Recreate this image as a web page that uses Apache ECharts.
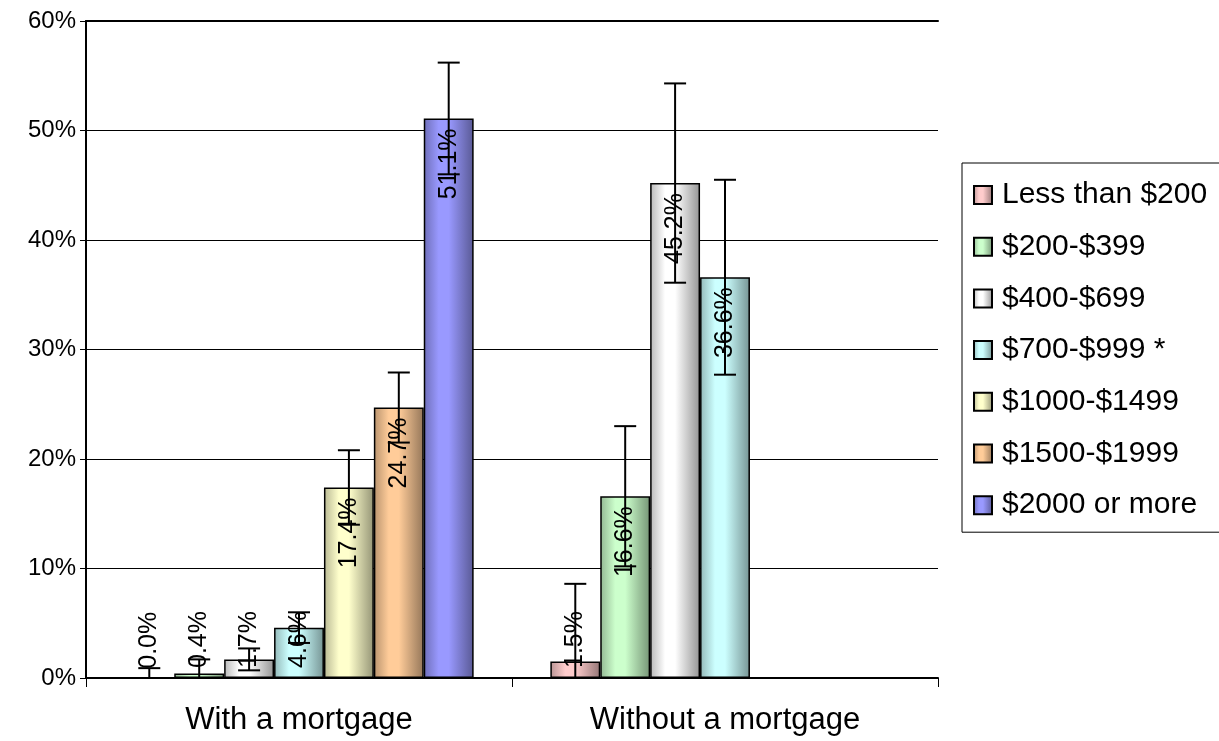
<!DOCTYPE html>
<html>
<head>
<meta charset="utf-8">
<script src="https://cdn.jsdelivr.net/npm/echarts@6/dist/echarts.min.js"></script>
<style>
html,body{margin:0;padding:0;background:#fff;}
#chart{width:1219px;height:741px;}
</style>
</head>
<body>
<div id="chart"></div>
<script>
var categories = ['With a mortgage', 'Without a mortgage'];
var seriesNames = ['Less than $200', '$200-$399', '$400-$699', '$700-$999 *', '$1000-$1499', '$1500-$1999', '$2000 or more'];
// values per series: [With a mortgage, Without a mortgage]
var lessThan200 = [0.0, 1.5];
var s200to399 = [0.4, 16.6];
var s400to699 = [1.7, 45.2];
var s700to999 = [4.6, 36.6];
var s1000to1499 = [17.4, null];
var s1500to1999 = [24.7, null];
var s2000plus = [51.1, null];
// error margins (±) per series
var errLessThan200 = [0.9, 7.1];
var err200to399 = [1.3, 6.4];
var err400to699 = [1.0, 9.1];
var err700to999 = [1.4, 8.9];
var err1000to1499 = [3.4, null];
var err1500to1999 = [3.2, null];
var err2000plus = [5.1, null];
var yTicks = [0, 10, 20, 30, 40, 50, 60];

var values = [lessThan200, s200to399, s400to699, s700to999, s1000to1499, s1500to1999, s2000plus];
var errors = [errLessThan200, err200to399, err400to699, err700to999, err1000to1499, err1500to1999, err2000plus];
var baseColors = ['#FFCCCC', '#CCFFCC', '#FFFFFF', '#CCFFFF', '#FFFFCC', '#FFCC99', '#9999FF'];

function shade(hex, f) {
  var r = parseInt(hex.substr(1,2),16), g = parseInt(hex.substr(3,2),16), b = parseInt(hex.substr(5,2),16);
  function c(v){ v = Math.round(v*f); v = Math.max(0, Math.min(255, v)); return ('0'+v.toString(16)).slice(-2); }
  return '#' + c(r) + c(g) + c(b);
}
function grad(hex) {
  return new echarts.graphic.LinearGradient(0, 0, 1, 0, [
    {offset: 0, color: shade(hex, 0.72)},
    {offset: 0.3, color: hex},
    {offset: 0.5, color: hex},
    {offset: 1, color: shade(hex, 0.58)}
  ]);
}

var FONT = '"Liberation Sans", Arial, sans-serif';
var GAP = 0.18;
var N = seriesNames.length;

var series = [];
values.forEach(function(vals, s) {
  series.push({
    name: seriesNames[s],
    type: 'bar',
    barGap: '0%',
    barCategoryGap: (GAP*100) + '%',
    itemStyle: {color: grad(baseColors[s]), borderColor: '#000', borderWidth: 1.5},
    data: vals.map(function(v) {
      if (v === null) return null;
      var small = v < 5;
      return {
        value: v,
        label: {
          show: true,
          rotate: 90,
          position: small ? 'insideBottom' : 'insideTop',
          distance: 10,
          align: small ? 'left' : 'right',
          verticalAlign: 'middle',
          formatter: function(p){ return p.value.toFixed(1) + '%'; },
          color: '#000',
          fontSize: 25,
          fontFamily: FONT
        }
      };
    }),
    z: 2
  });
});

var errData = [];
values.forEach(function(vals, s) {
  vals.forEach(function(v, c) {
    if (v !== null && errors[s][c] !== null) errData.push([c, v, errors[s][c], s]);
  });
});

series.push({
  type: 'custom',
  name: 'err',
  z: 5,
  silent: true,
  encode: {x: 0, y: 1},
  data: errData,
  renderItem: function(params, api) {
    var c = api.value(0), v = api.value(1), e = api.value(2), s = api.value(3);
    var band = api.size([1, 0])[0];
    var bw = band * (1 - GAP) / N;
    var cx = api.coord([c, 0])[0] + (s - (N - 1) / 2) * bw;
    var hiV = v + e, loV = v - e;
    var clipped = loV < 0;
    if (clipped) loV = 0;
    var yHi = api.coord([c, hiV])[1];
    var yLo = api.coord([c, loV])[1];
    var cap = 11;
    var st = {stroke: '#000', lineWidth: 2};
    var children = [
      {type: 'line', shape: {x1: cx, y1: yHi, x2: cx, y2: yLo}, style: st},
      {type: 'line', shape: {x1: cx - cap, y1: yHi, x2: cx + cap, y2: yHi}, style: st}
    ];
    if (!clipped) children.push({type: 'line', shape: {x1: cx - cap, y1: yLo, x2: cx + cap, y2: yLo}, style: st});
    return {type: 'group', children: children};
  }
});

var chart = echarts.init(document.getElementById('chart'), null, {renderer: 'canvas'});
chart.setOption({
  animation: false,
  backgroundColor: '#fff',
  textStyle: {fontFamily: FONT},
  grid: {left: 86, right: 281, top: 21, bottom: 63, containLabel: false},
  legend: {
    data: seriesNames,
    orient: 'vertical',
    left: 962,
    top: 163,
    padding: [17, 40, 12, 11],
    itemGap: 21.7,
    itemWidth: 18,
    itemHeight: 18,
    borderColor: '#000',
    borderWidth: 1,
    icon: 'rect',
    itemStyle: {borderColor: '#000', borderWidth: 2},
    textStyle: {fontSize: 30, fontFamily: FONT, color: '#000', lineHeight: 30, padding: [0, 0, 0, 5]}
  },
  xAxis: [{
    type: 'category',
    data: categories,
    axisLine: {lineStyle: {color: '#000', width: 2}},
    axisTick: {show: true, length: 9, alignWithLabel: false, lineStyle: {color: '#000', width: 1}},
    axisLabel: {fontSize: 31, fontFamily: FONT, color: '#000', margin: 27},
    splitLine: {show: false}
  }, {
    type: 'category',
    data: categories,
    position: 'top',
    axisLine: {show: true, lineStyle: {color: '#000', width: 2}},
    axisTick: {show: false},
    axisLabel: {show: false}
  }],
  yAxis: {
    type: 'value',
    min: yTicks[0],
    max: yTicks[yTicks.length - 1],
    interval: yTicks[1] - yTicks[0],
    axisLine: {show: true, lineStyle: {color: '#000', width: 2}},
    axisTick: {show: true, length: 6, lineStyle: {color: '#000', width: 1}},
    axisLabel: {formatter: '{value}%', fontSize: 24, fontFamily: FONT, color: '#000', margin: 10},
    splitLine: {show: true, lineStyle: {color: '#000', width: 1}}
  },
  series: series
});
</script>
</body>
</html>
